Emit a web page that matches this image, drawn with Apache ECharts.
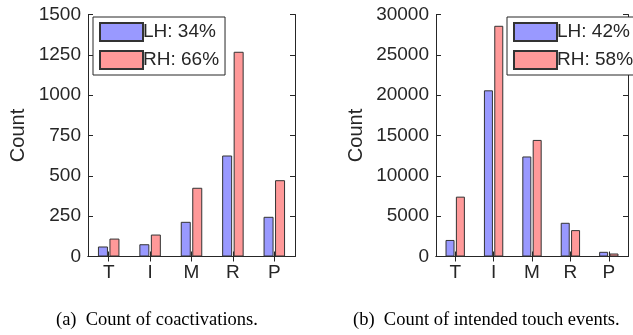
<!DOCTYPE html>
<html><head><meta charset="utf-8">
<script src="https://cdn.jsdelivr.net/npm/echarts@6/dist/echarts.min.js"></script>
<style>html,body{margin:0;padding:0;background:#fff}#c{width:633px;height:335px}</style>
</head><body><div id="c"></div>
<script>
const categories = ['T', 'I', 'M', 'R', 'P'];
const coactLH = [62, 76, 215, 626, 246];
const coactRH = [111, 136, 426, 1269, 473];
const touchLH = [2050, 20600, 12400, 4180, 580];
const touchRH = [7420, 28600, 14450, 3270, 370];
const legendA = ['LH: 34%', 'RH: 66%'];
const legendB = ['LH: 42%', 'RH: 58%'];
const yTicksA = { min: 0, max: 1500, interval: 250 };
const yTicksB = { min: 0, max: 30000, interval: 5000 };
const captions = ['(a)  Count of coactivations.', '(b)  Count of intended touch events.'];

const axisColor = '#262626';
const blue = '#9999ff', red = '#ff9999';
const font = 'Liberation Sans, Arial, sans-serif';

function xAx(gi, top) {
  return {
    type: 'category', gridIndex: gi, data: categories, position: top ? 'top' : 'bottom',
    axisLine: { show: true, lineStyle: { color: axisColor, width: 1 } },
    axisTick: { show: true, inside: true, length: 5, alignWithLabel: true, lineStyle: { color: axisColor } },
    axisLabel: { show: !top, color: axisColor, fontSize: 19, fontFamily: font, margin: 7 },
    splitLine: { show: false }
  };
}
function yAx(gi, t, right, nameGap) {
  return {
    type: 'value', gridIndex: gi, min: t.min, max: t.max, interval: t.interval,
    position: right ? 'right' : 'left',
    name: right ? '' : 'Count', nameLocation: 'middle', nameGap: nameGap,
    nameTextStyle: { color: axisColor, fontSize: 20, fontFamily: font },
    axisLine: { show: true, lineStyle: { color: axisColor, width: 1 } },
    axisTick: { show: true, inside: true, length: 5, lineStyle: { color: axisColor } },
    axisLabel: { show: !right, color: axisColor, fontSize: 19, fontFamily: font, margin: 7,
      formatter: function (v) { return String(v); } },
    splitLine: { show: false }
  };
}
function bar(name, data, gi, color, bw) {
  return {
    type: 'bar', name: name, data: data, xAxisIndex: gi * 2, yAxisIndex: gi * 2,
    barWidth: bw, barGap: '15%',
    itemStyle: { color: color, borderColor: '#333', borderWidth: 1 }
  };
}
function legend(names, left) {
  return {
    data: names, left: left, top: 17, orient: 'vertical',
    itemWidth: 43, itemHeight: 18, itemGap: 8, padding: [5, 6, 5, 6],
    borderColor: axisColor, borderWidth: 1, backgroundColor: '#fff', borderRadius: 0,
    textStyle: { color: axisColor, fontSize: 19, fontFamily: font, padding: [0, 0, 0, -5] },
    icon: 'rect'
  };
}
const capStyle = { fontFamily: 'Liberation Serif, serif', fontSize: 18.5, fontWeight: 'normal', color: '#000' };

const chart = echarts.init(document.getElementById('c'), null, { renderer: 'canvas' });
chart.setOption({
  animation: false,
  backgroundColor: '#fff',
  title: [
    { text: captions[0], left: 56, top: 311, padding: 0, textStyle: capStyle },
    { text: captions[1], left: 353, top: 311, padding: 0, textStyle: capStyle }
  ],
  grid: [
    { left: 88, top: 14.5, width: 207, height: 242 },
    { left: 436, top: 14.5, width: 192, height: 242 }
  ],
  xAxis: [xAx(0, false), xAx(0, true), xAx(1, false), xAx(1, true)],
  yAxis: [yAx(0, yTicksA, false, 60), yAx(0, yTicksA, true, 0), yAx(1, yTicksB, false, 70), yAx(1, yTicksB, true, 0)],
  legend: [legend(legendA, 93), legend(legendB, 507)],
  series: [
    bar(legendA[0], coactLH, 0, blue, 10),
    bar(legendA[1], coactRH, 0, red, 10),
    bar(legendB[0], touchLH, 1, blue, 9),
    bar(legendB[1], touchRH, 1, red, 9)
  ]
});
</script></body></html>
